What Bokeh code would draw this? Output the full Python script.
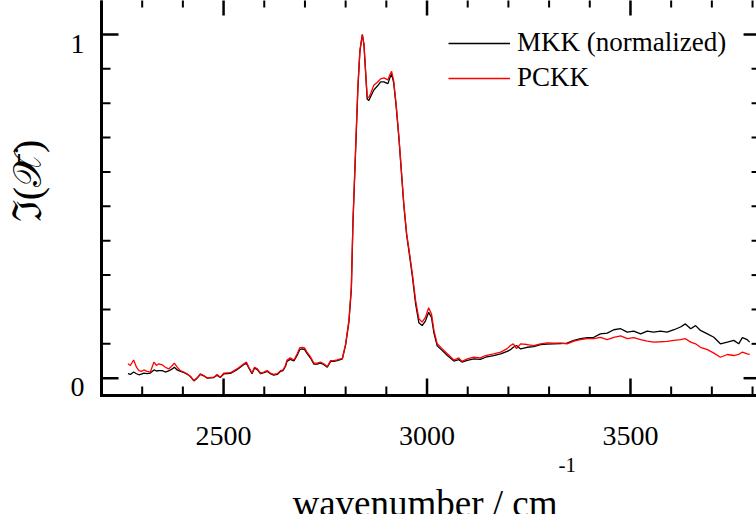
import math
from bokeh.plotting import figure
from bokeh.models import Range1d, Legend, LegendItem
from bokeh.core.properties import value
from bokeh.embed import file_html
from bokeh.resources import INLINE

wavenumber = [2265, 2271, 2279, 2286, 2292, 2298, 2304, 2312, 2320, 2329, 2335, 2341, 2349, 2357,
              2365, 2374, 2379, 2386, 2394, 2402, 2410, 2419, 2427, 2435, 2443, 2451, 2460, 2476,
              2484, 2492, 2501, 2517, 2533, 2550, 2556, 2562, 2570, 2576, 2583, 2591, 2599, 2607,
              2615, 2623, 2632, 2640, 2646, 2652, 2656, 2664, 2673, 2681, 2687, 2693, 2699, 2705,
              2714, 2722, 2730, 2738, 2746, 2755, 2763, 2771, 2779, 2787, 2792, 2800, 2808, 2814,
              2818, 2824, 2830, 2835, 2841, 2845, 2849, 2853, 2857, 2861, 2869, 2878, 2886, 2894,
              2904, 2908, 2913, 2918, 2924, 2931, 2937, 2943, 2950, 2956, 2964, 2972, 2980, 2988,
              2996, 3004, 3011, 3017, 3025, 3037, 3050, 3066, 3078, 3086, 3099, 3115, 3131, 3144,
              3164, 3181, 3197, 3205, 3212, 3220, 3230, 3246, 3262, 3279, 3295, 3312, 3328, 3344,
              3361, 3377, 3394, 3410, 3426, 3443, 3459, 3476, 3492, 3508, 3525, 3541, 3557, 3574,
              3590, 3607, 3623, 3635, 3648, 3660, 3672, 3689, 3705, 3721, 3738, 3754, 3766, 3775,
              3787, 3793]

pckk = [0.042, 0.037, 0.053, 0.032, 0.022, 0.020, 0.024, 0.020, 0.018, 0.047, 0.037, 0.042, 0.039, 0.032,
        0.027, 0.037, 0.044, 0.032, 0.022, 0.018, 0.013, 0.005, -0.007, 0.001, 0.013, 0.008, 0.001, 0.003,
        0.011, 0.003, 0.015, 0.016, 0.027, 0.042, 0.047, 0.032, 0.015, 0.032, 0.027, 0.015, 0.018, 0.022,
        0.015, 0.011, 0.013, 0.022, 0.024, 0.037, 0.053, 0.059, 0.053, 0.071, 0.088, 0.090, 0.088, 0.076,
        0.061, 0.044, 0.044, 0.047, 0.042, 0.034, 0.051, 0.051, 0.053, 0.056, 0.058, 0.100, 0.168, 0.265,
        0.459, 0.653, 0.847, 0.953, 1.000, 0.973, 0.895, 0.818, 0.817, 0.827, 0.852, 0.861, 0.871, 0.874,
        0.868, 0.881, 0.893, 0.866, 0.798, 0.701, 0.604, 0.507, 0.420, 0.372, 0.304, 0.226, 0.173, 0.163,
        0.177, 0.205, 0.187, 0.139, 0.100, 0.086, 0.071, 0.053, 0.059, 0.049, 0.056, 0.061, 0.059, 0.066,
        0.071, 0.076, 0.086, 0.095, 0.100, 0.086, 0.100, 0.098, 0.095, 0.100, 0.103, 0.102, 0.102, 0.100,
        0.108, 0.112, 0.115, 0.115, 0.119, 0.112, 0.119, 0.123, 0.115, 0.118, 0.112, 0.108, 0.105, 0.106,
        0.107, 0.110, 0.112, 0.115, 0.105, 0.100, 0.090, 0.083, 0.073, 0.061, 0.069, 0.066, 0.069, 0.076,
        0.071, 0.069]

mkk = [0.013, 0.011, 0.018, 0.013, 0.010, 0.012, 0.015, 0.013, 0.015, 0.024, 0.021, 0.022, 0.022, 0.018,
       0.021, 0.027, 0.032, 0.024, 0.020, 0.017, 0.012, 0.004, -0.008, 0.000, 0.011, 0.007, 0.000, 0.002,
       0.009, 0.002, 0.013, 0.014, 0.025, 0.040, 0.044, 0.030, 0.013, 0.030, 0.025, 0.013, 0.016, 0.020,
       0.013, 0.009, 0.011, 0.020, 0.022, 0.034, 0.049, 0.055, 0.050, 0.067, 0.083, 0.085, 0.084, 0.072,
       0.058, 0.041, 0.041, 0.044, 0.040, 0.032, 0.049, 0.049, 0.051, 0.054, 0.056, 0.097, 0.163, 0.258,
       0.450, 0.645, 0.840, 0.950, 1.000, 0.970, 0.890, 0.812, 0.808, 0.818, 0.838, 0.850, 0.862, 0.862,
       0.857, 0.872, 0.885, 0.860, 0.793, 0.697, 0.600, 0.503, 0.416, 0.366, 0.296, 0.216, 0.161, 0.153,
       0.166, 0.192, 0.177, 0.131, 0.094, 0.081, 0.066, 0.050, 0.054, 0.047, 0.052, 0.056, 0.055, 0.061,
       0.066, 0.071, 0.078, 0.083, 0.090, 0.095, 0.085, 0.090, 0.092, 0.098, 0.099, 0.100, 0.101, 0.102,
       0.110, 0.115, 0.118, 0.119, 0.129, 0.131, 0.141, 0.144, 0.134, 0.137, 0.129, 0.137, 0.134, 0.137,
       0.134, 0.141, 0.149, 0.158, 0.144, 0.153, 0.139, 0.129, 0.119, 0.100, 0.105, 0.110, 0.100, 0.118,
       0.112, 0.105]

series_labels = ["MKK (normalized)", "PCKK"]
series_colors = ["#000000", "#ff0000"]
x_title = "wavenumber / cm"
x_title_sup = "-1"
y_title = "\u2111(\U0001D4B3\u0304)"

# axis ticks (inward ticks on all four sides of the box)
x_major_ticks = [2500, 3000, 3500]
x_major_labels = ["2500", "3000", "3500"]
x_minor_ticks = [2200, 2300, 2400, 2600, 2700, 2800, 2900, 3100, 3200, 3300, 3400, 3600, 3700, 3800]
y_major_ticks = [0, 1]
y_major_labels = ["0", "1"]
y_minor_ticks = [0.1, 0.2, 0.3, 0.4, 0.5, 0.6, 0.7, 0.8, 0.9]

# axis box limits in data units (the box's right and top edges lie just beyond the picture)
x_lo, x_hi = 2200, 3819.7
y_lo, y_hi = -0.0503, 1.1047

# layout: pixel scale of the axes and where the box sits on the 756x514 canvas
W, H = 756, 514
PX_X = 0.4069      # pixels per cm-1
PX_Y = 343.7       # pixels per unit of intensity
BOX_LEFT = 101
ZERO_Y = 377.7
view_x = (x_lo - BOX_LEFT / PX_X, x_lo + (W - BOX_LEFT) / PX_X)
view_y = ((ZERO_Y - H) / PX_Y, ZERO_Y / PX_Y)
dx, dy = 1 / PX_X, 1 / PX_Y   # data units per pixel

FONT = "Liberation Serif"

p = figure(width=W, height=H, output_backend="svg", toolbar_location=None,
           x_range=Range1d(*view_x), y_range=Range1d(*view_y),
           x_axis_location=None, y_axis_location=None,
           min_border=0, min_border_left=0, min_border_right=0,
           min_border_top=0, min_border_bottom=0)
p.xgrid.visible = False
p.ygrid.visible = False
p.outline_line_color = None
p.background_fill_color = "white"
p.border_fill_color = "white"

r1 = p.line(wavenumber, mkk, line_color=series_colors[0], line_width=1.3)
r2 = p.line(wavenumber, pckk, line_color=series_colors[1], line_width=1.3)

# axis box
p.line([x_lo, x_lo, x_hi, x_hi, x_lo], [y_hi, y_lo, y_lo, y_hi, y_hi],
       line_color="black", line_width=3, line_join="miter")

# inward ticks
for xs, length, lw in ((x_major_ticks, 17, 2.5), (x_minor_ticks, 9, 2)):
    n = len(xs)
    p.segment(xs, [y_lo] * n, xs, [y_lo + length * dy] * n, line_color="black", line_width=lw)
    p.segment(xs, [y_hi] * n, xs, [y_hi - length * dy] * n, line_color="black", line_width=lw)
for ys, length, lw in ((y_major_ticks, 17, 2.5), (y_minor_ticks, 9, 2)):
    n = len(ys)
    p.segment([x_lo] * n, ys, [x_lo + length * dx] * n, ys, line_color="black", line_width=lw)
    p.segment([x_hi] * n, ys, [x_hi - length * dx] * n, ys, line_color="black", line_width=lw)

# tick labels
p.text(x=x_major_ticks, y=[y_lo] * len(x_major_ticks), text=x_major_labels,
       y_offset=41, text_align="center", text_baseline="alphabetic",
       text_font=value(FONT), text_font_size=value("28px"), text_color="black")
p.text(x=[x_lo] * len(y_major_ticks), y=y_major_ticks, text=y_major_labels,
       x_offset=-17, y_offset=9, text_align="right", text_baseline="alphabetic",
       text_font=value(FONT), text_font_size=value("28px"), text_color="black")

# axis titles
title_anchor = x_lo + (557 - BOX_LEFT) * dx
p.text(x=[title_anchor], y=[y_lo], text=[x_title], y_offset=108,
       text_align="right", text_baseline="alphabetic",
       text_font=value(FONT), text_font_size=value("37px"), text_color="black")
p.text(x=[title_anchor], y=[y_lo], text=[x_title_sup], x_offset=1, y_offset=70,
       text_align="left", text_baseline="alphabetic",
       text_font=value(FONT), text_font_size=value("21px"), text_color="black")
p.text(x=[x_lo], y=[(ZERO_Y - 180.5) * dy], text=[y_title], x_offset=-74.5,
       angle=math.pi / 2, text_align="center", text_baseline="middle",
       text_font=value(FONT), text_font_size=value("40px"), text_color="black")

legend = Legend(items=[LegendItem(label=series_labels[0], renderers=[r1]),
                       LegendItem(label=series_labels[1], renderers=[r2])],
                location=(448, 421), padding=0, margin=0, spacing=4,
                glyph_width=62, glyph_height=30, label_height=30, label_standoff=7,
                label_text_font=FONT, label_text_font_size="27px", label_text_color="black",
                border_line_color=None, background_fill_alpha=0)
p.add_layout(legend, "center")

open("out.html", "w").write(file_html(p, INLINE))
